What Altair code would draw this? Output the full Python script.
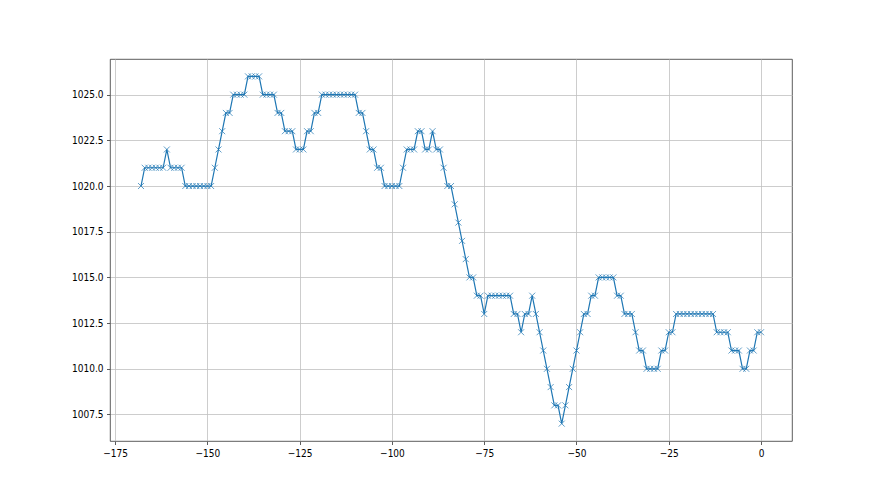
import altair as alt
import pandas as pd

# hourly readings, hours before now
hours = list(range(-168, 1))
pressure = [
    1020,
    1021, 1021, 1021, 1021, 1021, 1021,
    1022,
    1021, 1021, 1021, 1021,
    1020, 1020, 1020, 1020, 1020, 1020, 1020, 1020,
    1021, 1022, 1023,
    1024, 1024,
    1025, 1025, 1025, 1025,
    1026, 1026, 1026, 1026,
    1025, 1025, 1025, 1025,
    1024, 1024,
    1023, 1023, 1023,
    1022, 1022, 1022,
    1023, 1023,
    1024, 1024,
    1025, 1025, 1025, 1025, 1025, 1025, 1025, 1025, 1025, 1025,
    1024, 1024,
    1023,
    1022, 1022,
    1021, 1021,
    1020, 1020, 1020, 1020, 1020,
    1021,
    1022, 1022, 1022,
    1023, 1023,
    1022, 1022,
    1023,
    1022, 1022,
    1021,
    1020, 1020,
    1019, 1018, 1017, 1016,
    1015, 1015,
    1014, 1014,
    1013,
    1014, 1014, 1014, 1014, 1014, 1014, 1014,
    1013, 1013,
    1012,
    1013, 1013,
    1014,
    1013, 1012, 1011, 1010, 1009,
    1008, 1008,
    1007,
    1008, 1009, 1010, 1011, 1012,
    1013, 1013,
    1014, 1014,
    1015, 1015, 1015, 1015, 1015,
    1014, 1014,
    1013, 1013, 1013,
    1012,
    1011, 1011,
    1010, 1010, 1010, 1010,
    1011, 1011,
    1012, 1012,
    1013, 1013, 1013, 1013, 1013, 1013, 1013, 1013, 1013, 1013, 1013,
    1012, 1012, 1012, 1012,
    1011, 1011, 1011,
    1010, 1010,
    1011, 1011,
    1012, 1012,
]

x_ticks = [-175, -150, -125, -100, -75, -50, -25, 0]
y_ticks = [1007.5, 1010.0, 1012.5, 1015.0, 1017.5, 1020.0, 1022.5, 1025.0]

df = pd.DataFrame({"hour": hours, "pressure": pressure})

base = alt.Chart(df).encode(
    x=alt.X(
        "hour:Q",
        scale=alt.Scale(domain=[-176.4, 8.4], nice=False, zero=False),
        axis=alt.Axis(values=x_ticks, title=None, format="d"),
    ),
    y=alt.Y(
        "pressure:Q",
        scale=alt.Scale(domain=[1006.05, 1026.95], nice=False, zero=False),
        axis=alt.Axis(values=y_ticks, title=None, format=".1f"),
    ),
)

line = base.mark_line(color="#1f77b4", strokeWidth=1.2)
pts = base.mark_point(
    shape="M-1,-1L1,1M-1,1L1,-1",
    size=36,
    filled=False,
    color="#1f77b4",
    strokeWidth=1,
    opacity=0.7,
)

chart = (
    (line + pts)
    .properties(
        width=682,
        height=382,
        autosize=alt.AutoSizeParams(type="none"),
        padding={"left": 102, "top": 51, "right": 70, "bottom": 46},
    )
    .configure_view(stroke="#333333", strokeWidth=0.8)
    .configure_axis(
        domain=False,
        grid=True,
        gridColor="#c0c0c0",
        gridWidth=0.8,
        ticks=True,
        tickSize=3.5,
        tickColor="#333333",
        tickWidth=0.8,
        labelFont="Liberation Sans Narrow, DejaVu Sans Condensed, DejaVu Sans",
        labelFontSize=10,
        labelColor="black",
        labelPadding=3.5,
        labelFlush=False,
        labelOverlap=False,
    )
)

chart.save("out.html", embed_options={"renderer": "svg", "actions": False})
